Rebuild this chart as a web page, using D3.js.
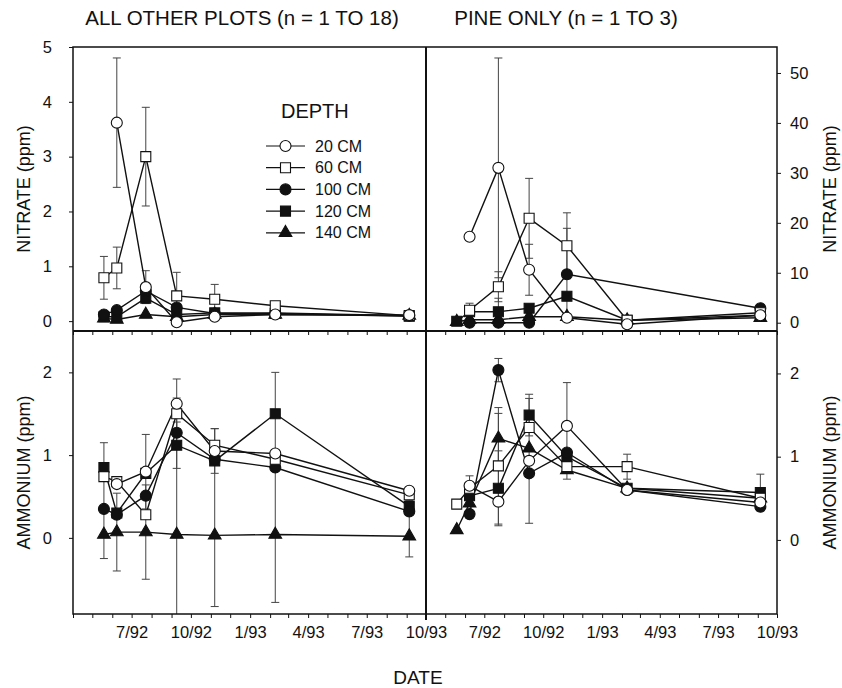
<!DOCTYPE html>
<html>
<head>
<meta charset="utf-8">
<script src="https://cdn.jsdelivr.net/npm/d3@7"></script>
<style>
  body { margin: 0; background: #fff; }
  text { font-family: "Liberation Sans", Arial, sans-serif; fill: #111; }
</style>
</head>
<body>
<svg id="chart" width="842" height="688"></svg>
<script>
// ---- data ----
const depths = ["20 CM", "60 CM", "100 CM", "120 CM", "140 CM"];
const sampleDates = ["1992-05-19", "1992-06-08", "1992-07-23", "1992-09-09", "1992-11-07", "1993-02-09", "1993-09-05"];
const dateTicks = ["1992-07-01", "1992-10-01", "1993-01-01", "1993-04-01", "1993-07-01", "1993-10-01"];
const dateTickLabels = ["7/92", "10/92", "1/93", "4/93", "7/93", "10/93"];

// nitrate, all other plots (one row per depth)
const nitrateOther = [
  [null, 3.62, 0.62, -0.02, 0.08, 0.12, 0.11],
  [0.79, 0.97, 3.0, 0.46, 0.40, 0.28, 0.10],
  [0.12, 0.20, 0.55, 0.25, 0.14, 0.15, 0.10],
  [0.08, 0.08, 0.42, 0.12, 0.15, 0.14, 0.09],
  [0.05, 0.03, 0.12, 0.08, 0.12, 0.12, 0.10]
];
const nitrateOtherErr = [
  [null, 1.18, 0.30, null, null, null, null],
  [0.39, 0.38, 0.90, 0.43, 0.27, null, null],
  [null, null, null, null, null, null, null],
  [null, null, null, null, null, null, null],
  [null, null, null, null, null, null, null]
];

// nitrate, pine only
const nitratePine = [
  [null, 17.2, 31.0, 10.6, 1.0, -0.3, 1.5],
  [null, 2.5, 7.2, 20.9, 15.4, 0.5, 2.0],
  [null, 0.0, 0.0, 0.0, 9.7, null, 2.9],
  [0.3, 2.2, 2.2, 2.9, 5.3, 0.5, 1.5],
  [0.2, 0.6, 0.6, 1.2, 1.2, 0.5, 1.0]
];
const nitratePineErr = [
  [null, null, 22.0, 5.1, null, null, null],
  [null, null, 3.0, 8.0, 6.6, null, null],
  [null, null, null, null, 9.2, null, null],
  [null, 1.7, 2.7, null, null, null, null],
  [null, null, null, null, null, null, null]
];

// ammonium, all other plots
const ammoniumOther = [
  [null, 0.65, 0.80, 1.62, 1.05, 1.02, 0.57],
  [0.74, 0.68, 0.28, 1.50, 1.12, 0.95, 0.52],
  [0.35, 0.28, 0.51, 1.27, 0.95, 0.85, 0.32],
  [0.85, 0.30, 0.78, 1.12, 0.93, 1.50, 0.38],
  [0.04, 0.07, 0.07, 0.04, 0.03, 0.04, 0.02]
];
const ammoniumOtherErr = [
  [null, null, 0.45, 0.30, 0.27, null, null],
  [0.41, null, null, null, 0.20, null, 0.07],
  [null, null, null, null, null, null, null],
  [null, null, null, 0.28, null, 0.50, null],
  [0.29, 0.47, 0.57, 1.65, 0.86, 0.82, 0.25]
];

// ammonium, pine only
const ammoniumPine = [
  [null, 0.65, 0.46, 0.95, 1.37, 0.60, 0.45],
  [0.43, 0.62, 0.89, 1.35, 0.88, 0.88, 0.50],
  [null, 0.31, 2.04, 0.80, 1.05, 0.60, 0.40],
  [null, 0.53, 0.62, 1.50, 1.00, 0.62, 0.57],
  [0.12, 0.44, 1.22, 1.10, 0.84, 0.62, 0.50]
];
const ammoniumPineErr = [
  [null, 0.12, null, 0.75, 0.52, null, null],
  [null, null, 0.70, null, null, 0.15, null],
  [null, null, 0.14, null, null, null, null],
  [null, null, 0.45, 0.25, null, null, 0.22],
  [null, null, 0.30, null, 0.11, null, null]
];

// ---- layout ----
const svg = d3.select("#chart");
const xL = 73, xM = 426, xR = 777;
const yT = 47, yM = 331, yB = 614;
const parse = d3.timeParse("%Y-%m-%d");
const dates = sampleDates.map(parse);
const tStart = parse("1992-04-01"), tEnd = parse("1993-10-01");

const xLeft = d3.scaleTime().domain([tStart, tEnd]).range([xL, xM]);
const xRight = d3.scaleTime().domain([tStart, tEnd]).range([xM, xR]);

const yNitOther = d3.scaleLinear().domain([-0.18, 5]).range([yM, yT]);
const yNitPine = d3.scaleLinear().domain([-1.66, 55.2]).range([yM, yT]);
const yAmmOther = d3.scaleLinear().domain([-0.92, 2.5]).range([yB, yM]);
const yAmmPine = d3.scaleLinear().domain([-0.89, 2.51]).range([yB, yM]);

const symbols = [
  { type: d3.symbolCircle, size: 95, open: true },
  { type: d3.symbolSquare, size: 100, open: true },
  { type: d3.symbolCircle, size: 95, open: false },
  { type: d3.symbolSquare, size: 100, open: false },
  { type: d3.symbolTriangle, size: 70, open: false }
];

const panels = [
  { id: "p1", x: xLeft, y: yNitOther, vals: nitrateOther, errs: nitrateOtherErr },
  { id: "p2", x: xRight, y: yNitPine, vals: nitratePine, errs: nitratePineErr },
  { id: "p3", x: xLeft, y: yAmmOther, vals: ammoniumOther, errs: ammoniumOtherErr },
  { id: "p4", x: xRight, y: yAmmPine, vals: ammoniumPine, errs: ammoniumPineErr }
];

const defs = svg.append("defs");

panels.forEach(p => {
  const [x0, x1] = p.x.range();
  const [y1, y0] = p.y.range();
  defs.append("clipPath").attr("id", "clip-" + p.id)
    .append("rect").attr("x", x0).attr("y", y0).attr("width", x1 - x0).attr("height", y1 - y0);

  const g = svg.append("g").attr("clip-path", "url(#clip-" + p.id + ")");

  // error bars
  p.vals.forEach((row, s) => {
    row.forEach((v, i) => {
      const e = p.errs[s][i];
      if (v == null || e == null) return;
      const cx = p.x(dates[i]);
      const eg = g.append("g").attr("stroke", "#444").attr("stroke-width", 1);
      eg.append("line").attr("x1", cx).attr("x2", cx).attr("y1", p.y(v - e)).attr("y2", p.y(v + e));
      eg.append("line").attr("x1", cx - 4).attr("x2", cx + 4).attr("y1", p.y(v + e)).attr("y2", p.y(v + e));
      eg.append("line").attr("x1", cx - 4).attr("x2", cx + 4).attr("y1", p.y(v - e)).attr("y2", p.y(v - e));
    });
  });

  // lines
  const line = d3.line()
    .x(d => p.x(d.date))
    .y(d => p.y(d.value));
  p.vals.forEach(row => {
    const pts = row.map((v, i) => ({ date: dates[i], value: v })).filter(d => d.value != null);
    g.append("path").datum(pts)
      .attr("fill", "none").attr("stroke", "#111").attr("stroke-width", 1.4)
      .attr("d", line);
  });

  // markers, deepest first so the open ones sit on top
  for (let s = p.vals.length - 1; s >= 0; s--) {
    const sym = symbols[s];
    const pts = p.vals[s].map((v, i) => ({ date: dates[i], value: v })).filter(d => d.value != null);
    g.selectAll(null).data(pts).enter().append("path")
      .attr("transform", d => "translate(" + p.x(d.date) + "," + p.y(d.value) + ")")
      .attr("d", d3.symbol().type(sym.type).size(sym.size))
      .attr("fill", sym.open ? "#fff" : "#111")
      .attr("stroke", "#111")
      .attr("stroke-width", 1.1);
  }
});

// ---- frame ----
const frame = svg.append("g").attr("fill", "none").attr("stroke", "#111");
frame.append("rect").attr("x", xL).attr("y", yT).attr("width", xR - xL).attr("height", yB - yT).attr("stroke-width", 1.5);
frame.append("line").attr("x1", xM).attr("x2", xM).attr("y1", yT).attr("y2", yB + 6).attr("stroke-width", 2);
frame.append("line").attr("x1", xL).attr("x2", xR).attr("y1", yM).attr("y2", yM).attr("stroke-width", 2);

// ---- axes ----
const tickFont = "16.5px";
function styleAxis(sel) {
  sel.select(".domain").remove();
  sel.selectAll("line").attr("stroke", "#111");
  sel.selectAll("text").style("font-size", tickFont).attr("fill", "#111");
}

svg.append("g").attr("transform", "translate(" + xL + ",0)")
  .call(d3.axisLeft(yNitOther).tickValues([0, 1, 2, 3, 4, 5]).tickFormat(d3.format("d")).tickSize(4).tickPadding(17))
  .call(styleAxis);
svg.append("g").attr("transform", "translate(" + xL + ",0)")
  .call(d3.axisLeft(yAmmOther).tickValues([0, 1, 2]).tickFormat(d3.format("d")).tickSize(4).tickPadding(17))
  .call(styleAxis);
svg.append("g").attr("transform", "translate(" + xR + ",0)")
  .call(d3.axisRight(yNitPine).tickValues([0, 10, 20, 30, 40, 50]).tickFormat(d3.format("d")).tickSize(4).tickPadding(9))
  .call(styleAxis);
svg.append("g").attr("transform", "translate(" + xR + ",0)")
  .call(d3.axisRight(yAmmPine).tickValues([0, 1, 2]).tickFormat(d3.format("d")).tickSize(4).tickPadding(9))
  .call(styleAxis);

// monthly ticks along the bottom and the middle border
const months = d3.timeMonth.range(tStart, d3.timeDay.offset(tEnd, 1));
[xLeft, xRight].forEach(xs => {
  [yM, yB].forEach(yy => {
    svg.append("g").attr("transform", "translate(0," + yy + ")")
      .call(d3.axisBottom(xs).tickValues(months).tickSize(4).tickFormat(""))
      .call(styleAxis);
  });
  svg.append("g").attr("transform", "translate(0," + yB + ")")
    .call(d3.axisBottom(xs).tickValues(dateTicks.map(parse)).tickSize(0).tickPadding(12)
      .tickFormat((d, i) => dateTickLabels[i]))
    .call(styleAxis);
});

// ---- titles ----
svg.append("text").attr("x", 242).attr("y", 25).attr("text-anchor", "middle")
  .style("font-size", "20.5px").text("ALL OTHER PLOTS (n = 1 TO 18)");
svg.append("text").attr("x", 566).attr("y", 25).attr("text-anchor", "middle")
  .style("font-size", "20.5px").text("PINE ONLY (n = 1 TO 3)");
svg.append("text").attr("x", 418).attr("y", 684).attr("text-anchor", "middle")
  .style("font-size", "19px").text("DATE");

const yTitles = [
  { x: 24, y: (yT + yM) / 2, t: "NITRATE (ppm)" },
  { x: 24, y: (yM + yB) / 2, t: "AMMONIUM (ppm)" },
  { x: 830, y: (yT + yM) / 2, t: "NITRATE (ppm)" },
  { x: 830, y: (yM + yB) / 2, t: "AMMONIUM (ppm)" }
];
yTitles.forEach(d => {
  svg.append("text")
    .attr("transform", "translate(" + d.x + "," + d.y + ") rotate(-90)")
    .attr("text-anchor", "middle").attr("dy", "0.35em")
    .style("font-size", "18px").text(d.t);
});

// ---- legend ----
const legend = svg.append("g").attr("transform", "translate(266,0)");
legend.append("text").attr("x", 15).attr("y", 118).style("font-size", "20px").text("DEPTH");
depths.forEach((name, i) => {
  const ly = 146 + i * 21.7;
  legend.append("line").attr("x1", 0).attr("x2", 39).attr("y1", ly).attr("y2", ly)
    .attr("stroke", "#111").attr("stroke-width", 1.2);
  legend.append("path")
    .attr("transform", "translate(19.5," + ly + ")")
    .attr("d", d3.symbol().type(symbols[i].type).size(symbols[i].size))
    .attr("fill", symbols[i].open ? "#fff" : "#111")
    .attr("stroke", "#111").attr("stroke-width", 1.1);
  legend.append("text").attr("x", 49).attr("y", ly).attr("dy", "0.35em")
    .style("font-size", "16px").text(name);
});
</script>
</body>
</html>
